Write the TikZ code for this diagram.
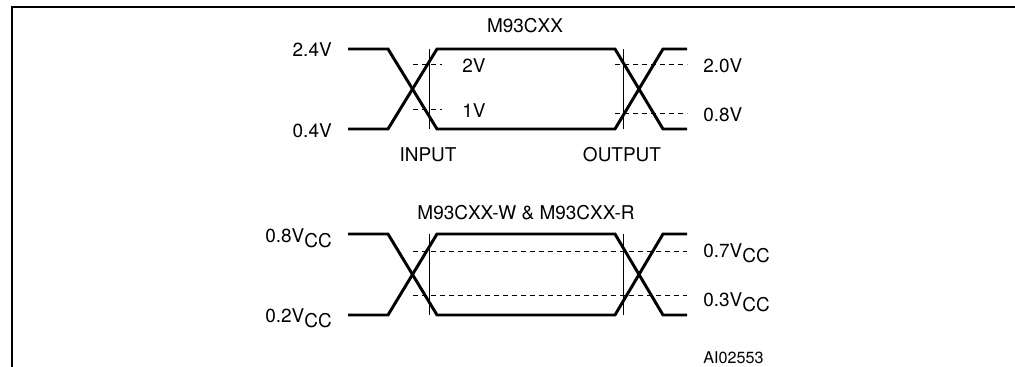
\documentclass[tikz,border=0pt]{standalone}
\usepackage{fontspec}
\setmainfont{TeX Gyre Heros}

\begin{document}
\begin{tikzpicture}[x=0.25mm,y=-0.25mm,font=\fontsize{13.5}{16}\selectfont,
  every node/.style={inner sep=0pt},
  wave/.style={line width=2.1pt},
  level/.style={line width=0.7pt,dash pattern=on 3.4pt off 3pt},
  strobe/.style={line width=0.7pt}]
\def\Vcc{V\raisebox{-3.5pt}{CC}}
\def\hiA{49}
\def\loA{129}
\def\hiB{234}
\def\loB{315}
\useasboundingbox (0,0) rectangle (1015,367);

% frame
\coordinate (frameBL) at (12,367);
\coordinate (frameTL) at (12,7);
\coordinate (frameTR) at (1015,7);
\draw[line width=1.4pt] (frameBL) -- (frameTL) -- (frameTR);

% M93CXX
\node[anchor=base] (titleA) at (525,33) {M93CXX};
\draw[wave] (348,\hiA) -- (388,\hiA) -- (437,\loA) -- (615,\loA) -- (663,\hiA) -- (687,\hiA);
\draw[wave] (348,\loA) -- (388,\loA) -- (437,\hiA) -- (615,\hiA) -- (663,\loA) -- (687,\loA);
\draw[strobe] (429,\hiA) -- (429,\loA);
\draw[strobe] (623,\hiA) -- (623,\loA);
\draw[level] (413,64) -- (442,64);
\draw[level] (413,109) -- (442,109);
\draw[level] (615,64) -- (687,64);
\draw[level] (615,113) -- (687,113);

\node[anchor=base east] (hiInA) at (332,57) {2.4V};
\node[anchor=base east] (loInA) at (332,138) {0.4V};
\node[anchor=base west] (vihA) at (462,73) {2V};
\node[anchor=base west] (vilA) at (462,118) {1V};
\node[anchor=base west] (vohA) at (703,73) {2.0V};
\node[anchor=base west] (volA) at (703,122) {0.8V};
\node[anchor=base] (input) at (428,162) {INPUT};
\node[anchor=base] (output) at (622,162) {OUTPUT};

% M93CXX-W & M93CXX-R
\node[anchor=base] (titleB) at (526,220) {M93CXX-W \& M93CXX-R};
\draw[wave] (348,\hiB) -- (388,\hiB) -- (437,\loB) -- (615,\loB) -- (663,\hiB) -- (687,\hiB);
\draw[wave] (348,\loB) -- (388,\loB) -- (437,\hiB) -- (615,\hiB) -- (663,\loB) -- (687,\loB);
\draw[strobe] (429,\hiB) -- (429,\loB);
\draw[strobe] (623,\hiB) -- (623,\loB);
\draw[level] (413,251) -- (687,251);
\draw[level] (413,295) -- (687,295);

\node[anchor=base east] (hiInB) at (332,243) {0.8\Vcc};
\node[anchor=base east] (loInB) at (332,323) {0.2\Vcc};
\node[anchor=base west] (vohB) at (703,258) {0.7\Vcc};
\node[anchor=base west] (volB) at (703,307) {0.3\Vcc};

\node[anchor=base west,font=\fontsize{11.5}{13}\selectfont] (figid) at (703,364) {AI02553};

\end{tikzpicture}
\end{document}
